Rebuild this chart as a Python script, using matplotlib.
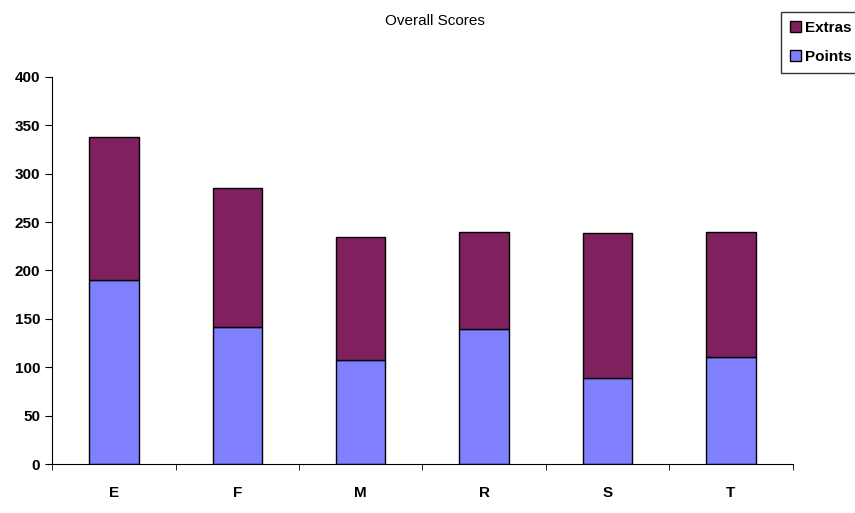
import matplotlib.pyplot as plt
import numpy as np

plt.rcParams['font.family'] = ['Liberation Sans', 'DejaVu Sans']

categories = ['E', 'F', 'M', 'R', 'S', 'T']
points = [190, 142, 108, 140, 89, 111]
extras = [148, 143, 127, 100, 150, 129]

fig = plt.figure(figsize=(8.55, 5.13), dpi=100)
ax = fig.add_axes([0.061, 0.0955, 0.866, 0.7545])

x = np.arange(len(categories))
b1 = ax.bar(x, points, width=0.4, color='#8080FF', edgecolor='black', linewidth=1, label='Points')
b2 = ax.bar(x, extras, width=0.4, bottom=points, color='#80205F', edgecolor='black', linewidth=1, label='Extras')

ax.set_xlim(-0.5, len(categories) - 0.5)
ax.set_ylim(0, 400)
ax.set_yticks(range(0, 401, 50))
ax.set_xticks(x)
ax.set_xticklabels(categories, fontweight='bold', fontsize=11)
ax.set_xticks(np.arange(-0.5, len(categories), 1), minor=True)
ax.tick_params(axis='x', which='major', length=0, pad=16)
ax.tick_params(axis='x', which='minor', length=4, direction='out')
ax.tick_params(axis='y', length=5, direction='out', labelsize=11)
for lbl in ax.get_yticklabels():
    lbl.set_fontweight('bold')

for s in ['top', 'right']:
    ax.spines[s].set_visible(False)

fig.text(0.509, 0.96, 'Overall Scores', ha='center', va='center', fontsize=11)

fig.legend(handles=[b2, b1], labels=['Extras', 'Points'], loc='upper left',
           bbox_to_anchor=(781 / 855, 1 - 12 / 513), frameon=True, fancybox=False,
           edgecolor='black', prop={'weight': 'bold', 'size': 11},
           handlelength=0.7, handleheight=0.7, handletextpad=0.3, borderpad=0.6,
           labelspacing=0.95, borderaxespad=0)

fig.savefig('out.png', dpi=100)
